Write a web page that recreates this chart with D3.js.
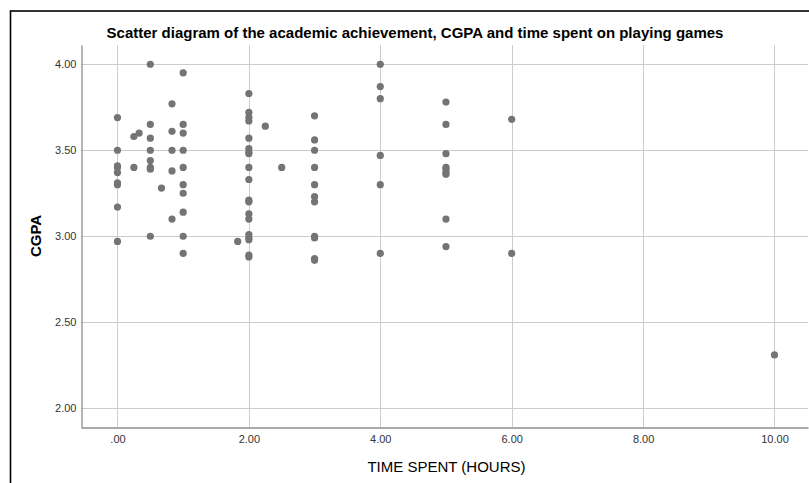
<!DOCTYPE html>
<html>
<head>
<meta charset="utf-8">
<script src="https://cdn.jsdelivr.net/npm/d3@7"></script>
<style>
  html, body { margin: 0; padding: 0; background: #fff; }
  svg { display: block; }
</style>
</head>
<body>
<svg id="chart" width="809" height="483"></svg>
<script>
// ---- data ----
const title = "Scatter diagram of the academic achievement, CGPA and time spent on playing games";
const xLabel = "TIME SPENT (HOURS)";
const yLabel = "CGPA";
const xTicks = [0, 2, 4, 6, 8, 10];
const yTicks = [2.0, 2.5, 3.0, 3.5, 4.0];
const xDomain = [-0.555, 10.51];
const yDomain = [1.891, 4.112];

// time spent (hours) and CGPA for each student
const timeSpent = [
  0,0,0,0,0,0,0,0,0,
  0.25,0.33,0.25,
  0.5,0.5,0.5,0.5,0.5,0.5,0.5,0.5,
  0.67,
  0.83,0.83,0.83,0.83,0.83,
  1,1,1,1,1,1,1,1,1,1,
  1.83,
  2,2,2,2,2,2,2,2,2,2,2,2,2,2,2,2,2,2,2,
  2.25,2.5,
  3,3,3,3,3,3,3,3,3,3,3,
  4,4,4,4,4,4,
  5,5,5,5,5,5,5,5,5,
  6,6,
  10
];
const cgpa = [
  3.69,3.50,3.41,3.40,3.37,3.31,3.30,3.17,2.97,
  3.58,3.60,3.40,
  4.00,3.65,3.57,3.50,3.44,3.40,3.39,3.00,
  3.28,
  3.77,3.61,3.50,3.38,3.10,
  3.95,3.65,3.60,3.50,3.40,3.30,3.25,3.14,3.00,2.90,
  2.97,
  3.83,3.72,3.69,3.67,3.57,3.51,3.49,3.48,3.40,3.33,3.21,3.20,3.13,3.10,3.01,2.99,2.98,2.89,2.88,
  3.64,3.40,
  3.70,3.56,3.50,3.40,3.30,3.23,3.20,3.00,2.99,2.87,2.86,
  4.00,3.87,3.80,3.47,3.30,2.90,
  3.78,3.65,3.48,3.40,3.39,3.37,3.36,3.10,2.94,
  3.68,2.90,
  2.31
];

// ---- layout ----
const svg = d3.select("#chart");
const plot = { left: 81, right: 808, top: 45, bottom: 427 };
const font = "'Liberation Sans', Arial, sans-serif";

const x = d3.scaleLinear().domain(xDomain).range([plot.left, plot.right]);
const y = d3.scaleLinear().domain(yDomain).range([plot.bottom, plot.top]);

// outer frame
svg.append("rect")
  .attr("x", 10.5).attr("y", 11)
  .attr("width", 830).attr("height", 520)
  .attr("fill", "none").attr("stroke", "#000").attr("stroke-width", 1.6);

// grid lines
svg.append("g").selectAll("line").data(yTicks).join("line")
  .attr("x1", plot.left).attr("x2", plot.right)
  .attr("y1", d => Math.round(y(d)) + 0.5).attr("y2", d => Math.round(y(d)) + 0.5)
  .attr("stroke", "#cccccc").attr("stroke-width", 1);
svg.append("g").selectAll("line").data(xTicks).join("line")
  .attr("y1", plot.top).attr("y2", plot.bottom)
  .attr("x1", d => Math.round(x(d)) + 0.5).attr("x2", d => Math.round(x(d)) + 0.5)
  .attr("stroke", "#cccccc").attr("stroke-width", 1);

// axes
const fmtY = d3.format(".2f");
const fmtX = d => d === 0 ? ".00" : d3.format(".2f")(d);

const yAxis = svg.append("g")
  .attr("transform", `translate(${plot.left + 0.5},0)`)
  .call(d3.axisLeft(y).tickValues(yTicks).tickFormat(fmtY).tickSize(0).tickPadding(5));
const xAxis = svg.append("g")
  .attr("transform", `translate(0,${plot.bottom + 0.5})`)
  .call(d3.axisBottom(x).tickValues(xTicks).tickFormat(fmtX).tickSize(0).tickPadding(8));

[yAxis, xAxis].forEach(a => {
  a.select(".domain").attr("stroke", "#8c8c8c").attr("stroke-width", 1.3);
  a.selectAll("text").attr("font-family", font).attr("font-size", 11).attr("fill", "#333");
});

// points
svg.append("g").selectAll("circle").data(timeSpent.map((t, i) => [t, cgpa[i]])).join("circle")
  .attr("cx", d => x(d[0])).attr("cy", d => y(d[1]))
  .attr("r", 3.6).attr("fill", "#747474");

// title
svg.append("text")
  .attr("x", 415).attr("y", 38)
  .attr("text-anchor", "middle")
  .attr("font-family", font).attr("font-size", 15).attr("font-weight", "bold")
  .attr("fill", "#000")
  .text(title);

// axis titles
svg.append("text")
  .attr("x", (plot.left + plot.right) / 2 + 2).attr("y", 472)
  .attr("text-anchor", "middle")
  .attr("font-family", font).attr("font-size", 15)
  .attr("fill", "#000")
  .text(xLabel);

svg.append("text")
  .attr("transform", "translate(41,236) rotate(-90)")
  .attr("text-anchor", "middle")
  .attr("font-family", font).attr("font-size", 15).attr("font-weight", "bold")
  .attr("fill", "#000")
  .text(yLabel);
</script>
</body>
</html>
